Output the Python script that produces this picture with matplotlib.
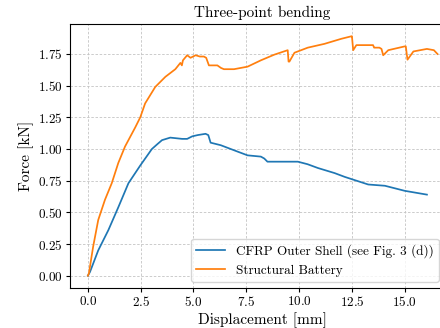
import matplotlib
matplotlib.use("Agg")
import matplotlib.pyplot as plt

plt.rcParams['font.family'] = 'serif'
plt.rcParams['font.serif'] = ['cmr10', 'DejaVu Serif']
plt.rcParams['mathtext.fontset'] = 'cm'
plt.rcParams['axes.formatter.use_mathtext'] = True

# CFRP Outer Shell
shell_x = [0, 0.1, 0.49, 0.97, 1.44, 1.92, 2.48, 3.03, 3.3, 3.51, 3.9, 4.46, 4.7,
           4.94, 5.2, 5.57, 5.7, 5.81, 6.29, 7.08, 7.56, 8.19, 8.35, 8.5, 9.14, 9.94,
           10.4, 10.89, 11.68, 12.16, 13.27, 14.06, 15.0, 16.05]
shell_y = [0, 0.03, 0.20, 0.36, 0.54, 0.73, 0.87, 1.00, 1.04, 1.07, 1.09, 1.08, 1.08,
           1.10, 1.11, 1.12, 1.11, 1.05, 1.03, 0.98, 0.95, 0.94, 0.925, 0.90, 0.90, 0.90,
           0.88, 0.85, 0.81, 0.78, 0.72, 0.71, 0.67, 0.64]

# Structural Battery
batt_x = [0, 0.05, 0.25, 0.49, 0.81, 1.13, 1.44, 1.76, 2.24, 2.48, 2.71, 3.19, 3.67,
          4.14, 4.38, 4.45, 4.5, 4.7, 4.86, 5.1, 5.3, 5.49, 5.6, 5.73, 6.13, 6.3, 6.44,
          6.92, 7.24, 7.56, 8.19, 8.83, 9.46, 9.5, 9.54, 9.78, 10.41, 11.2, 12.0, 12.48,
          12.5, 12.56, 12.71, 13.5, 13.55, 13.59, 13.8, 13.9, 13.98, 14.22, 15.0, 15.05,
          15.13, 15.41, 16.05, 16.38, 16.55]
batt_y = [0, 0.02, 0.23, 0.44, 0.60, 0.73, 0.89, 1.02, 1.17, 1.25, 1.36, 1.49, 1.57,
          1.63, 1.68, 1.66, 1.70, 1.74, 1.72, 1.74, 1.73, 1.73, 1.72, 1.66, 1.66, 1.64,
          1.63, 1.63, 1.64, 1.65, 1.70, 1.745, 1.78, 1.69, 1.69, 1.76, 1.80, 1.83, 1.87,
          1.89, 1.89, 1.78, 1.82, 1.82, 1.80, 1.80, 1.80, 1.79, 1.74, 1.78, 1.81, 1.81,
          1.705, 1.77, 1.79, 1.78, 1.75]

title = "Three-point bending"
xlabel = "Displacement [mm]"
ylabel = "Force [kN]"
labels = ["CFRP Outer Shell (see Fig. 3 (d))", "Structural Battery"]

fig = plt.figure(figsize=(4.4, 3.28), dpi=100)
ax = fig.add_axes([0.16, 0.1229, 1.034 - 0.16, 0.926 - 0.1229])
ax.plot(shell_x, shell_y, color='#1f77b4', lw=1.25, label=labels[0])
ax.plot(batt_x, batt_y, color='#ff7f0e', lw=1.25, label=labels[1])
ax.set_xticks([0, 2.5, 5, 7.5, 10, 12.5, 15])
ax.set_yticks([0, 0.25, 0.5, 0.75, 1.0, 1.25, 1.5, 1.75])
ax.grid(True, ls=(0, (3, 2)), color='#c4c4c4', lw=0.6)
ax.tick_params(labelsize=9.5, length=3, pad=2.5)
ax.set_title(title, fontsize=11, pad=5)
ax.set_xlabel(xlabel, fontsize=11, labelpad=2)
ax.set_ylabel(ylabel, fontsize=11, labelpad=3)
ax.legend(loc='lower right', fontsize=9.5, handlelength=2.2,
          bbox_to_anchor=(439 / 440, (328 - 282) / 328),
          bbox_transform=fig.transFigure, borderaxespad=0)
fig.savefig("out.png", dpi=100)
